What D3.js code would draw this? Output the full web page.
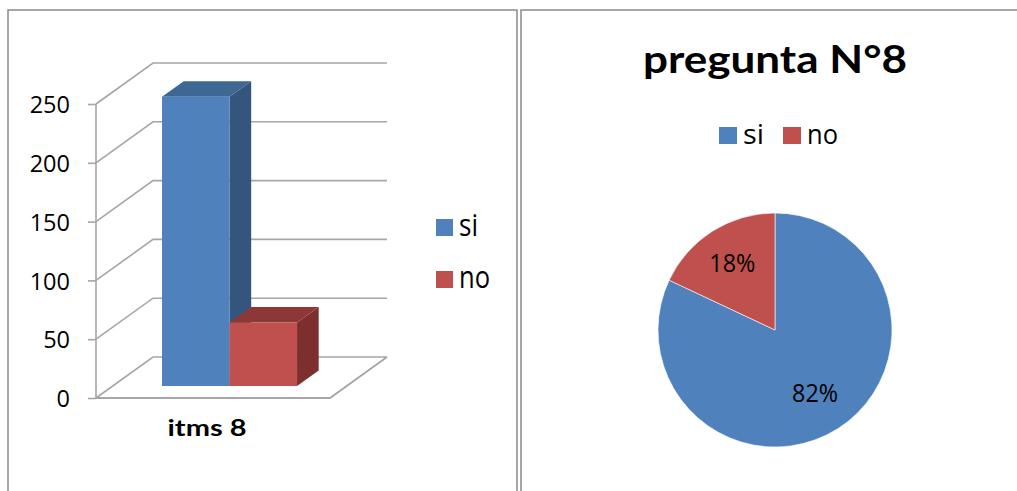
<!DOCTYPE html>
<html>
<head>
<meta charset="utf-8">
<script src="https://cdn.jsdelivr.net/npm/d3@7/dist/d3.min.js"></script>
<style>
  body { margin: 0; background: #fff; }
  svg { display: block; }
  text { font-family: "Open Sans", "Noto Sans", sans-serif; fill: #000; }
  .heading { font-family: Lato, "Open Sans", sans-serif; }
</style>
</head>
<body>
<svg id="chart" width="1017" height="491"></svg>
<script>
// ---- data ----
const categories = ["itms 8"];
const seriesNames = ["si", "no"];
const siValues = [246];
const noValues = [54];
const yTicks = [0, 50, 100, 150, 200, 250];
const pieNames = ["si", "no"];
const pieValues = [82, 18];
const pieTitle = "pregunta N°8";

// ---- styles ----
const fronts = ["#4F81BD", "#C0504D"];
const sides  = ["#33557E", "#7D2F2D"];
const tops   = ["#3E6793", "#8D3836"];
const gridColor = "#a6a6a6";
const frameColor = "#8a8a8a";

const svg = d3.select("#chart");
svg.append("rect").attr("width", 1017).attr("height", 491).attr("fill", "#fff");

// panel frames
svg.append("path")
  .attr("d", "M8,500 L8,10 L517,10 L517,500")
  .attr("fill", "none").attr("stroke", frameColor).attr("stroke-width", 1.5);
svg.append("path")
  .attr("d", "M521,500 L521,10 L1030,10")
  .attr("fill", "none").attr("stroke", frameColor).attr("stroke-width", 1.5);

// ================= 3D column chart =================
const left = svg.append("g");
const DX = 57, DY = 41;                 // oblique depth offset of the back wall
const y = d3.scaleLinear().domain([0, 250]).range([398, 104]);
const x0 = d3.scaleBand().domain(categories).range([96, 330]).padding(0);
const x1 = d3.scaleBand().domain(seriesNames).range([0, x0.bandwidth()])
  .paddingInner(0).paddingOuter(0.733);
const zFront = 0.29, zBack = 0.67;      // bar depth inside the floor

const P = (x, v, z) => [x + z * DX, y(v) - z * DY];
const poly = pts => "M" + pts.map(p => p.join(",")).join("L") + "Z";
const line = pts => "M" + pts.map(p => p.join(",")).join("L");

const xL = x0.range()[0], xR = x0.range()[1];

// back wall gridlines + side wall diagonals
yTicks.forEach(t => {
  left.append("path")
    .attr("d", line([P(xL, t, 0), P(xL, t, 1), P(xR, t, 1)]))
    .attr("fill", "none").attr("stroke", gridColor).attr("stroke-width", 1.6);
});
// floor outline (front and right edges)
left.append("path")
  .attr("d", line([P(xL, 0, 0), P(xR, 0, 0), P(xR, 0, 1)]))
  .attr("fill", "none").attr("stroke", gridColor).attr("stroke-width", 1.8);

// vertical axis line + ticks
left.append("path")
  .attr("d", line([P(xL, 0, 0), P(xL, 250, 0)]))
  .attr("fill", "none").attr("stroke", gridColor).attr("stroke-width", 1.6);

const yAxis = d3.axisLeft(y).tickValues(yTicks).tickSize(8).tickPadding(18);
const yAxisG = left.append("g").attr("transform", `translate(${xL},0)`).call(yAxis);
yAxisG.select(".domain").remove();
yAxisG.selectAll(".tick line").attr("stroke", gridColor).attr("stroke-width", 1.6);
yAxisG.selectAll(".tick text")
  .attr("font-family", '"Open Sans", sans-serif')
  .attr("font-size", 23.5).attr("fill", "#000")
  .attr("dy", "0.37em");

// bars
const seriesValues = [siValues, noValues];
categories.forEach((cat, ci) => {
  seriesNames.forEach((s, si) => {
    const v = seriesValues[si][ci];
    const a = x0(cat) + x1(s), b = a + x1.bandwidth();
    const g = left.append("g");
    g.append("path").attr("d", poly([P(b, 0, zFront), P(b, 0, zBack), P(b, v, zBack), P(b, v, zFront)]))
      .attr("fill", sides[si]);
    g.append("path").attr("d", poly([P(a, v, zFront), P(b, v, zFront), P(b, v, zBack), P(a, v, zBack)]))
      .attr("fill", tops[si]);
    g.append("path").attr("d", poly([P(a, 0, zFront), P(b, 0, zFront), P(b, v, zFront), P(a, v, zFront)]))
      .attr("fill", fronts[si]);
  });
  left.append("text").attr("class", "heading")
    .attr("x", x0(cat) + x0.bandwidth() / 2 - 6).attr("y", 436)
    .attr("text-anchor", "middle").attr("font-size", 22).attr("font-weight", 700)
    .attr("textLength", 79).attr("lengthAdjust", "spacingAndGlyphs")
    .text(cat);
});

// legend (left)
const legL = left.append("g");
const legLLen = [19, 31];
seriesNames.forEach((s, i) => {
  const ly = 219 + i * 52;
  legL.append("rect").attr("x", 436).attr("y", ly).attr("width", 17).attr("height", 17).attr("fill", fronts[i]);
  legL.append("text").attr("x", 459).attr("y", ly + 17).attr("font-size", 31)
    .attr("textLength", legLLen[i]).attr("lengthAdjust", "spacingAndGlyphs").text(s);
});

// ================= pie chart =================
const right = svg.append("g");
const cx = 775, cy = 330, r = 117;

right.append("text").attr("class", "heading").attr("x", cx).attr("y", 73).attr("text-anchor", "middle")
  .attr("font-size", 38).attr("font-weight", 700)
  .attr("textLength", 264).attr("lengthAdjust", "spacingAndGlyphs")
  .text(pieTitle);

// legend (right)
const legRX = [719, 783];
const legRLen = [21, 31];
pieNames.forEach((s, i) => {
  right.append("rect").attr("x", legRX[i]).attr("y", 127).attr("width", 18).attr("height", 17).attr("fill", fronts[i]);
  right.append("text").attr("x", legRX[i] + 24).attr("y", 144).attr("font-size", 28)
    .attr("textLength", legRLen[i]).attr("lengthAdjust", "spacingAndGlyphs").text(s);
});

const pie = d3.pie().sort(null).value(d => d);
const arcs = pie(pieValues);
const arc = d3.arc().innerRadius(0).outerRadius(r);
const labelRadius = [0.64, 0.68];       // radial label placement per slice
const pg = right.append("g").attr("transform", `translate(${cx},${cy})`);
pg.selectAll("path.slice").data(arcs).enter().append("path")
  .attr("class", "slice").attr("d", arc)
  .attr("fill", (d, i) => fronts[i]).attr("stroke", "#fff").attr("stroke-width", 0.6);
pg.selectAll("text.lbl").data(arcs).enter().append("text")
  .attr("class", "lbl")
  .each(function (d, i) {
    const rr = r * labelRadius[i];
    const c = d3.arc().innerRadius(rr).outerRadius(rr).centroid(d);
    d3.select(this).attr("x", c[0]).attr("y", c[1] + 9);
  })
  .attr("text-anchor", "middle").attr("font-size", 25)
  .attr("textLength", 46).attr("lengthAdjust", "spacingAndGlyphs")
  .text(d => d.data + "%");
</script>
</body>
</html>
